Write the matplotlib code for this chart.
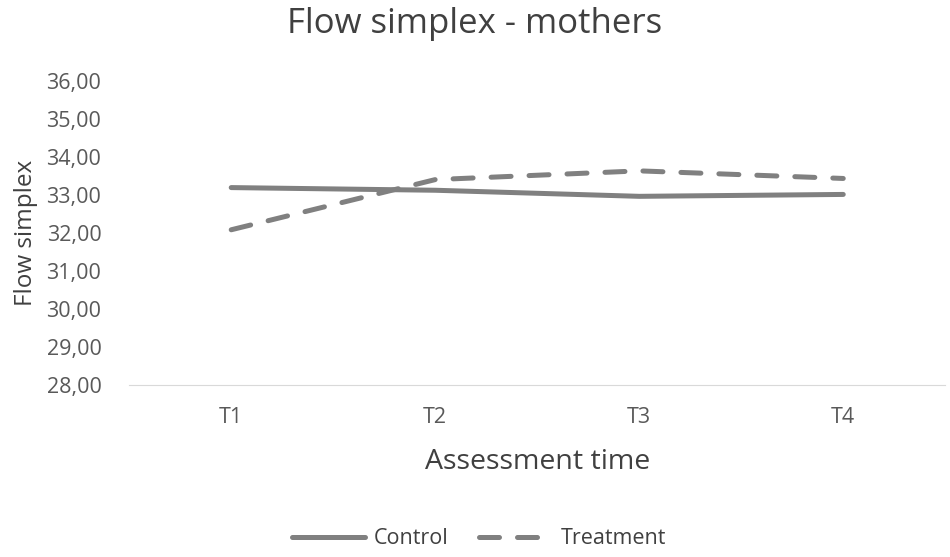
import matplotlib
matplotlib.use("Agg")
import matplotlib.pyplot as plt

categories = ["T1", "T2", "T3", "T4"]
control = [33.19, 33.12, 32.96, 33.01]
treatment = [32.08, 33.40, 33.63, 33.43]
yticks = [28, 29, 30, 31, 32, 33, 34, 35, 36]

plt.rcParams['font.family'] = ['Open Sans', 'DejaVu Sans']
fig = plt.figure(figsize=(9.5, 5.57), dpi=100)
ax = fig.add_axes([0.136, 0.309, 0.859, 0.546])

x = list(range(len(categories)))
col = "#808080"
ax.plot(x, control, color=col, lw=3.6, solid_capstyle='round', label="Control")
ax.plot(x, treatment, color=col, lw=3.6, dashes=(4.0, 3.6), dash_capstyle='round', label="Treatment")

ax.set_xlim(-0.5, 3.5)
ax.set_ylim(28, 36)
ax.set_yticks(yticks)
ax.set_yticklabels([f"{v},00" for v in yticks])
ax.set_xticks(x)
ax.set_xticklabels(categories)
for s in ["top", "right", "left"]:
    ax.spines[s].set_visible(False)
ax.spines["bottom"].set_color("#d9d9d9")
ax.tick_params(axis='both', length=0, labelsize=15.5, colors="#595959")
ax.tick_params(axis='y', pad=20)
ax.tick_params(axis='x', pad=16)

fig.suptitle("Flow simplex - mothers", fontsize=25, color="#404040", x=0.5, y=0.957, va='center')
ax.set_xlabel("Assessment time", fontsize=20.5, color="#404040", labelpad=14)
ax.set_ylabel("Flow simplex", fontsize=17.5, color="#404040", labelpad=6)

leg = fig.legend(loc="center", bbox_to_anchor=(0.504, 0.033), ncol=2, frameon=False,
                 fontsize=15.5, handlelength=3.4, columnspacing=1.4, handletextpad=0.4)
for t in leg.get_texts():
    t.set_color("#404040")

fig.savefig("out.png", dpi=100)
